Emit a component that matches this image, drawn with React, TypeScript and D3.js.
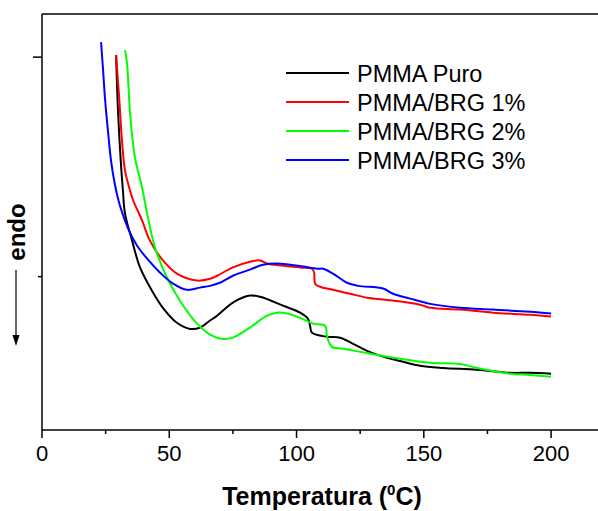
import React from 'react';
import * as d3 from 'd3';

// DSC curves, temperature (°C) vs heat flow (arbitrary units, endo down)
const pmmaPuro: [number, number][] = [
  [29.1, 2.005], [29.9, 1.872], [31.0, 1.758], [31.8, 1.696], [32.6, 1.644], [35.4, 1.582],
  [38.5, 1.521], [43.2, 1.468], [47.5, 1.429], [53.0, 1.395], [58.2, 1.381], [62.1, 1.384],
  [66.0, 1.400], [68.8, 1.411], [75.0, 1.441], [81.7, 1.457], [85.7, 1.454], [94.7, 1.434],
  [101.4, 1.418], [104.5, 1.404], [105.3, 1.388], [106.1, 1.372], [112.0, 1.363], [117.1, 1.361],
  [122.2, 1.347], [127.7, 1.331], [135.6, 1.315], [141.8, 1.306], [148.5, 1.297], [157.6, 1.292],
  [170.9, 1.288], [183.9, 1.281], [191.7, 1.281], [200, 1.279],
];

const brg1: [number, number][] = [
  [29.1, 2.005], [30.3, 1.909], [31.4, 1.811], [32.6, 1.742], [34.6, 1.696], [35.8, 1.674],
  [39.3, 1.628], [42.4, 1.582], [47.5, 1.537], [53.0, 1.507], [60.9, 1.491], [66.0, 1.495],
  [68.8, 1.502], [75.0, 1.521], [81.7, 1.534], [85.7, 1.537], [88.4, 1.530], [94.7, 1.525],
  [101.4, 1.521], [106.1, 1.518], [106.9, 1.509], [107.3, 1.484], [109.2, 1.477], [114.3, 1.470],
  [121.0, 1.461], [127.7, 1.452], [135.6, 1.447], [148.5, 1.436], [152.5, 1.429], [164.2, 1.425],
  [177.2, 1.418], [191.7, 1.413], [200, 1.409],
];

const brg2: [number, number][] = [
  [32.6, 2.016], [33.4, 1.986], [34.6, 1.872], [36.5, 1.772], [39.3, 1.703], [41.3, 1.644],
  [44.4, 1.566], [49.1, 1.498], [54.2, 1.445], [60.9, 1.393], [66.0, 1.368], [71.1, 1.358],
  [75.0, 1.361], [81.7, 1.384], [88.4, 1.411], [92.3, 1.418], [96.3, 1.416], [101.4, 1.406],
  [106.5, 1.393], [111.2, 1.388], [112.0, 1.363], [113.9, 1.340], [118.3, 1.336], [127.7, 1.326],
  [140.7, 1.313], [152.5, 1.304], [164.2, 1.301], [170.9, 1.292], [183.9, 1.279], [191.7, 1.276],
  [200, 1.272],
];

const brg3: [number, number][] = [
  [23.2, 2.034], [24.0, 1.970], [24.8, 1.902], [25.9, 1.833], [27.1, 1.765], [28.7, 1.708],
  [30.6, 1.662], [33.8, 1.610], [37.3, 1.571], [41.3, 1.541], [46.4, 1.509], [51.5, 1.484],
  [57.0, 1.470], [62.1, 1.475], [66.0, 1.479], [69.9, 1.486], [75.0, 1.502], [81.7, 1.516],
  [86.8, 1.527], [92.3, 1.530], [97.4, 1.527], [102.6, 1.523], [108.1, 1.518], [110.4, 1.518],
  [114.3, 1.507], [119.8, 1.486], [124.2, 1.479], [134.0, 1.473], [137.9, 1.461], [144.6, 1.450],
  [152.5, 1.438], [164.2, 1.429], [177.2, 1.425], [191.7, 1.420], [200, 1.416],
];

const seriesNames = ['PMMA Puro', 'PMMA/BRG 1%', 'PMMA/BRG 2%', 'PMMA/BRG 3%'];
const seriesColors = ['#000000', '#ff0000', '#00ff00', '#0000ff'];
const seriesData = [pmmaPuro, brg1, brg2, brg3];

const xMajorTicks = [0, 50, 100, 150, 200];
const xMinorTicks = [25, 75, 125, 175];
const yMajorTicks = [2.0];
const yMinorTicks = [1.5];

const width = 598;
const height = 511;
const margin = { top: 14, right: -4, bottom: 81, left: 42 };

export default function App() {
  const x = d3.scaleLinear().domain([0, 220]).range([margin.left, width - margin.right]);
  const y = d3.scaleLinear().domain([1.1507, 2.0982]).range([height - margin.bottom, margin.top]);

  const line = d3.line<[number, number]>()
    .x(d => x(d[0]))
    .y(d => y(d[1]))
    .curve(d3.curveCatmullRom.alpha(0.5));

  const x0 = margin.left;
  const yBottom = height - margin.bottom;
  const font = '"Liberation Sans", Arial, sans-serif';

  return (
    <div style={{ position: 'absolute', left: 0, top: 0 }}>
      <svg width={width} height={height} style={{ display: 'block', background: '#fff' }}>
        {/* frame */}
        <line x1={x0} x2={width} y1={margin.top} y2={margin.top} stroke="#000" strokeWidth={1.5} />
        <line x1={x0} x2={x0} y1={margin.top} y2={yBottom} stroke="#000" strokeWidth={1.5} />
        <line x1={x0} x2={width} y1={yBottom} y2={yBottom} stroke="#000" strokeWidth={1.5} />

        {/* x ticks */}
        {xMajorTicks.map(t => (
          <g key={'xm' + t}>
            <line x1={x(t)} x2={x(t)} y1={yBottom} y2={yBottom + 8} stroke="#000" strokeWidth={1.5} />
            <text x={x(t)} y={yBottom + 31} textAnchor="middle" fontFamily={font} fontSize={22}>{t}</text>
          </g>
        ))}
        {xMinorTicks.map(t => (
          <line key={'xn' + t} x1={x(t)} x2={x(t)} y1={yBottom} y2={yBottom + 4} stroke="#000" strokeWidth={1.5} />
        ))}

        {/* y ticks (no labels) */}
        {yMajorTicks.map(t => (
          <line key={'ym' + t} x1={x0 - 9} x2={x0} y1={y(t)} y2={y(t)} stroke="#000" strokeWidth={1.5} />
        ))}
        {yMinorTicks.map(t => (
          <line key={'yn' + t} x1={x0 - 4} x2={x0} y1={y(t)} y2={y(t)} stroke="#000" strokeWidth={1.5} />
        ))}

        {/* curves */}
        {seriesData.map((d, i) => (
          <path key={seriesNames[i]} d={line(d) || ''} fill="none" stroke={seriesColors[i]} strokeWidth={2} strokeLinejoin="round" />
        ))}

        {/* legend */}
        {seriesNames.map((name, i) => (
          <g key={'lg' + i} transform={`translate(286,${73 + i * 29})`}>
            <line x1={0} x2={63} y1={0} y2={0} stroke={seriesColors[i]} strokeWidth={2} />
            <text x={71} y={8.5} fontFamily={font} fontSize={23.5}>{name}</text>
          </g>
        ))}

        {/* x title */}
        <text x={(x(0) + x(220)) / 2} y={505} textAnchor="middle" fontFamily={font} fontSize={25} fontWeight="bold">
          Temperatura (<tspan dy={-10} fontSize={15}>0</tspan><tspan dy={10}>C)</tspan>
        </text>

        {/* y label with arrow */}
        <text transform="translate(25,232) rotate(-90)" textAnchor="middle" fontFamily={font} fontSize={24} fontWeight="bold">endo</text>
        <line x1={16} x2={16} y1={270} y2={336} stroke="#000" strokeWidth={1.2} />
        <path d="M12.5,335 L19.5,335 L16,346 Z" fill="#000" />
      </svg>
    </div>
  );
}
